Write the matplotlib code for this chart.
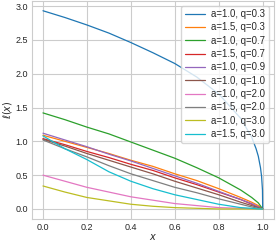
import numpy as np
import matplotlib
matplotlib.use('Agg')
import matplotlib.pyplot as plt
import seaborn as sns

# values
x_main = [0.0, 0.1, 0.2, 0.3, 0.4, 0.5, 0.6, 0.7, 0.8, 0.9, 0.95, 0.98, 1.0]
x_blue = [0.0, 0.1, 0.2, 0.3, 0.4, 0.5, 0.6, 0.7, 0.8, 0.9, 0.95, 0.97, 0.98,
          0.99, 0.995, 0.999, 1.0]

l_a10_q03 = [2.93, 2.83, 2.72, 2.60, 2.46, 2.31, 2.15, 1.95, 1.70, 1.34, 1.06,
             0.89, 0.78, 0.61, 0.48, 0.28, 0.0]
l_a15_q03 = [1.09, 1.00, 0.91, 0.82, 0.72, 0.63, 0.52, 0.42, 0.30, 0.17, 0.10, 0.05, 0.0]
l_a10_q07 = [1.42, 1.32, 1.21, 1.11, 0.99, 0.87, 0.75, 0.61, 0.46, 0.28, 0.17, 0.09, 0.0]
l_a15_q07 = [1.04, 0.95, 0.85, 0.76, 0.66, 0.57, 0.46, 0.36, 0.25, 0.14, 0.07, 0.03, 0.0]
l_a10_q09 = [1.12, 1.02, 0.92, 0.81, 0.71, 0.60, 0.49, 0.38, 0.26, 0.14, 0.08, 0.03, 0.0]
l_a10_q10 = [1.03, 0.93, 0.82, 0.72, 0.62, 0.52, 0.41, 0.31, 0.21, 0.10, 0.05, 0.02, 0.0]
l_a10_q20 = [0.50, 0.41, 0.32, 0.25, 0.18, 0.13, 0.08, 0.05, 0.02, 0.01, 0.0, 0.0, 0.0]
l_a15_q20 = [1.02, 0.89, 0.77, 0.64, 0.52, 0.42, 0.32, 0.24, 0.15, 0.07, 0.03, 0.01, 0.0]
l_a10_q30 = [0.34, 0.25, 0.17, 0.12, 0.07, 0.04, 0.02, 0.01, 0.0, 0.0, 0.0, 0.0, 0.0]
l_a15_q30 = [1.08, 0.89, 0.73, 0.55, 0.41, 0.30, 0.21, 0.14, 0.07, 0.02, 0.01, 0.0, 0.0]

labels = ['a=1.0, q=0.3', 'a=1.5, q=0.3', 'a=1.0, q=0.7', 'a=1.5, q=0.7',
          'a=1.0, q=0.9', 'a=1.0, q=1.0', 'a=1.0, q=2.0', 'a=1.5, q=2.0',
          'a=1.0, q=3.0', 'a=1.5, q=3.0']
series = [l_a10_q03, l_a15_q03, l_a10_q07, l_a15_q07, l_a10_q09,
          l_a10_q10, l_a10_q20, l_a15_q20, l_a10_q30, l_a15_q30]

sns.set_style('whitegrid')
plt.rcParams['font.family'] = ['Liberation Sans', 'DejaVu Sans']
plt.rcParams['mathtext.fontset'] = 'dejavusans'

fig = plt.figure(figsize=(2.77, 2.42), dpi=100)
ax = fig.add_axes([0.1155, 0.0955, 0.8725, 0.901])

for lab, vals in zip(labels, series):
    xs = x_blue if len(vals) == len(x_blue) else x_main
    ax.plot(xs, vals, label=lab, linewidth=0.9)

ax.set_xticks([0.0, 0.2, 0.4, 0.6, 0.8, 1.0])
ax.set_yticks([0.0, 0.5, 1.0, 1.5, 2.0, 2.5, 3.0])
ax.tick_params(labelsize=6.5, length=0, pad=3)
ax.set_xlabel('$x$', fontsize=7, labelpad=0)
ax.set_ylabel(r'$\ell(x)$', fontsize=7, labelpad=1)
ax.legend(loc='upper right', fontsize=6.9, labelspacing=0.35, handlelength=2.1,
          handletextpad=0.7, borderpad=0.35, framealpha=0.8)

fig.savefig('out.png', dpi=100)
